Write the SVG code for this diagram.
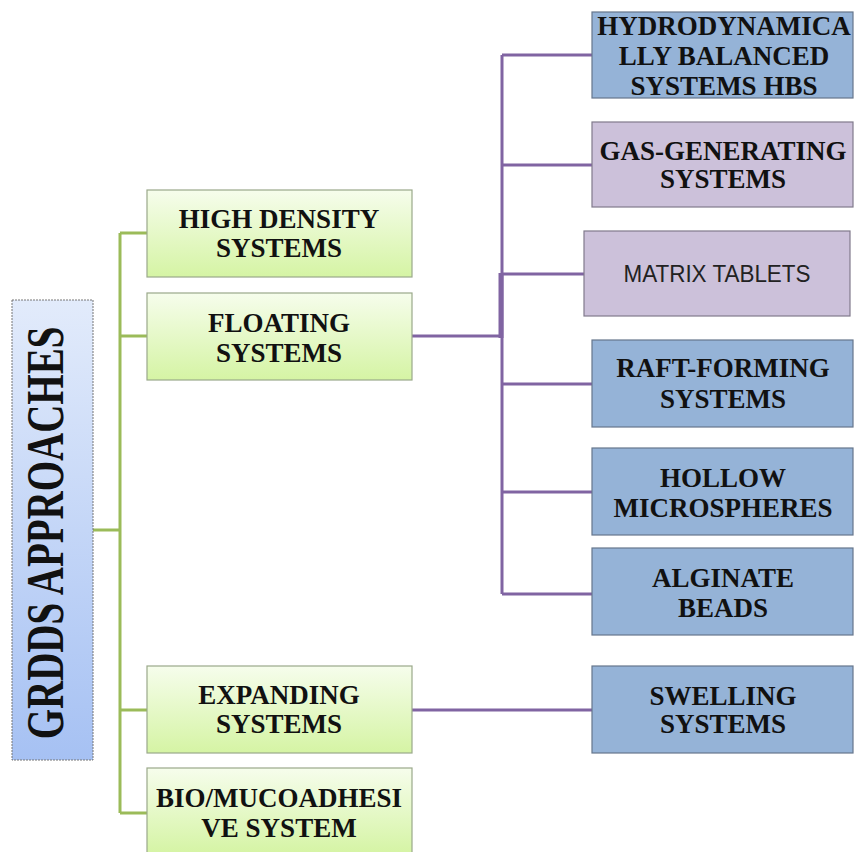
<svg xmlns="http://www.w3.org/2000/svg" width="856" height="852" viewBox="0 0 856 852">
<defs>
<linearGradient id="gGreen" x1="0" y1="0" x2="0" y2="1"><stop offset="0" stop-color="#f6fdec"/><stop offset="1" stop-color="#d5f4a4"/></linearGradient>
<linearGradient id="gRoot" x1="0" y1="0" x2="0" y2="1"><stop offset="0" stop-color="#e2ebfb"/><stop offset="1" stop-color="#a6c1f3"/></linearGradient>
</defs>
<style>
.green{fill:url(#gGreen);stroke:#9aa88a;stroke-width:1.2}
.blue{fill:#95b3d7;stroke:#66768c;stroke-width:1.2}
.lilac{fill:#ccc1da;stroke:#807a8c;stroke-width:1.2}
.root{fill:url(#gRoot);stroke:#777;stroke-width:1;stroke-dasharray:2 1}
.t{font-family:"Liberation Serif","Times New Roman",serif;font-weight:bold;font-size:27px;fill:#111;text-anchor:middle}
.s{font-family:"Liberation Sans",Arial,sans-serif;font-size:23px;fill:#222;text-anchor:middle}
.gl{stroke:#9bbb59;stroke-width:3;fill:none}
.pl{stroke:#8064a2;stroke-width:3;fill:none}
</style>
<g id="connectors">
<path class="gl" d="M93 530H120M120 233V813M120 233H147M120 336H147M120 710H147M120 813H147"/>
<path class="pl" d="M412 336H502M502 55V594M502 55H592M502 165H592M502 274H584M502 384H592M502 492H592M502 594H592M412 710H592"/>
<path class="pl" style="stroke-width:5" d="M501 273V338"/>
</g>
<g id="root">
<rect class="root" x="12" y="300" width="81" height="460"/>
<text class="t" style="font-size:39px" transform="translate(63,533) rotate(-90) scale(1,1.34)" x="0" y="0">GRDDS APPROACHES</text>
</g>
<g id="high-density">
<rect class="green" x="147" y="190" width="265" height="87"/>
<text class="t" x="279" y="228">HIGH DENSITY</text>
<text class="t" x="279" y="257">SYSTEMS</text>
</g>
<g id="floating">
<rect class="green" x="147" y="293" width="265" height="87"/>
<text class="t" x="279" y="332">FLOATING</text>
<text class="t" x="279" y="362">SYSTEMS</text>
</g>
<g id="expanding">
<rect class="green" x="147" y="666" width="265" height="87"/>
<text class="t" x="279" y="704">EXPANDING</text>
<text class="t" x="279" y="733">SYSTEMS</text>
</g>
<g id="bio">
<rect class="green" x="147" y="768" width="265" height="86"/>
<text class="t" x="279" y="807">BIO/MUCOADHESI</text>
<text class="t" x="279" y="837">VE SYSTEM</text>
</g>
<g id="hbs">
<rect class="blue" x="592" y="12" width="261" height="86"/>
<text class="t" x="724" y="35">HYDRODYNAMICA</text>
<text class="t" x="724" y="65">LLY BALANCED</text>
<text class="t" x="724" y="95">SYSTEMS HBS</text>
</g>
<g id="gas">
<rect class="lilac" x="592" y="122" width="261" height="85"/>
<text class="t" x="723" y="160">GAS-GENERATING</text>
<text class="t" x="723" y="188">SYSTEMS</text>
</g>
<g id="matrix">
<rect class="lilac" x="584" y="231" width="266" height="85"/>
<text class="s" x="717" y="282" textLength="187" lengthAdjust="spacingAndGlyphs">MATRIX TABLETS</text>
</g>
<g id="raft">
<rect class="blue" x="592" y="340" width="261" height="87"/>
<text class="t" x="723" y="377">RAFT-FORMING</text>
<text class="t" x="723" y="408">SYSTEMS</text>
</g>
<g id="hollow">
<rect class="blue" x="592" y="448" width="261" height="87"/>
<text class="t" x="723" y="487">HOLLOW</text>
<text class="t" x="723" y="517">MICROSPHERES</text>
</g>
<g id="alginate">
<rect class="blue" x="592" y="548" width="261" height="87"/>
<text class="t" x="723" y="587">ALGINATE</text>
<text class="t" x="723" y="617">BEADS</text>
</g>
<g id="swelling">
<rect class="blue" x="592" y="666" width="261" height="87"/>
<text class="t" x="723" y="705">SWELLING</text>
<text class="t" x="723" y="733">SYSTEMS</text>
</g>
</svg>
